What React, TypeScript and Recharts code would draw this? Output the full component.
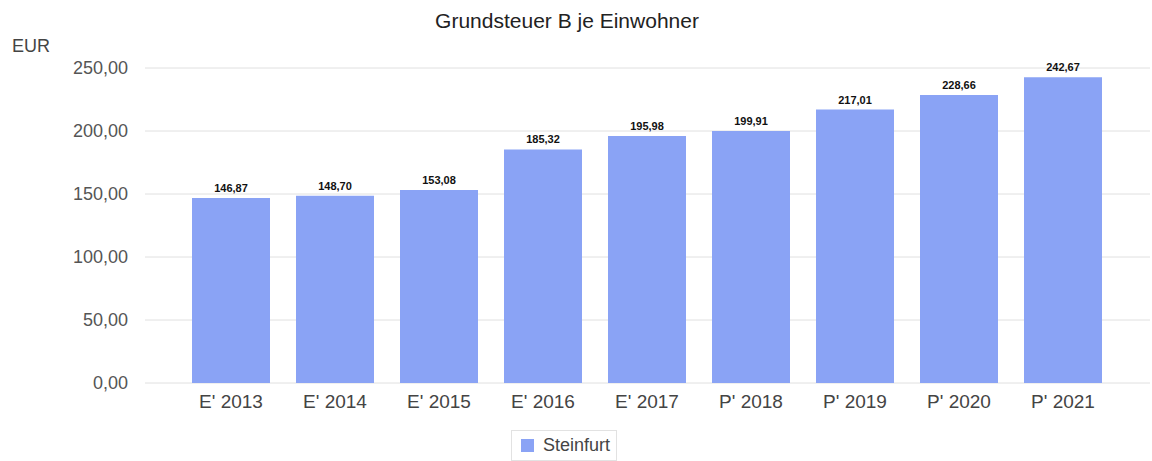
import { BarChart, Bar, XAxis, YAxis, CartesianGrid, Legend, LabelList } from 'recharts';

const categories = ["E' 2013", "E' 2014", "E' 2015", "E' 2016", "E' 2017", "P' 2018", "P' 2019", "P' 2020", "P' 2021"];
const steinfurt = [146.87, 148.7, 153.08, 185.32, 195.98, 199.91, 217.01, 228.66, 242.67];
const yTicks = [0, 50, 100, 150, 200, 250];

const chartData = categories.map((name, i) => ({ name, value: steinfurt[i] }));

const font = "'Liberation Sans', Arial, sans-serif";
const barColor = '#8aa3f5';

const fmt = (v: number) => v.toFixed(2).replace('.', ',');

function LegendBox() {
  return (
    <div style={{ display: 'flex', justifyContent: 'center', height: 31, marginLeft: -22 }}>
      <div
        style={{
          display: 'flex',
          alignItems: 'center',
          border: '1px solid #e2e2e2',
          padding: '0 6px 0 9px',
          height: 31,
          boxSizing: 'border-box',
          fontFamily: font,
          fontSize: 18,
          color: '#444',
        }}
      >
        <span style={{ width: 13, height: 13, background: barColor, display: 'inline-block', marginRight: 9 }} />
        Steinfurt
      </div>
    </div>
  );
}

export default function App() {
  return (
    <div style={{ position: 'absolute', left: 0, top: 0, width: 1152, height: 461, background: '#fff' }}>
      <div
        style={{
          position: 'absolute',
          top: 9,
          left: 0,
          width: 1134,
          textAlign: 'center',
          fontFamily: font,
          fontSize: 21,
          color: '#222',
        }}
      >
        Grundsteuer B je Einwohner
      </div>
      <div style={{ position: 'absolute', top: 36, left: 12, fontFamily: font, fontSize: 18, color: '#444' }}>EUR</div>
      <BarChart
        width={1152}
        height={461}
        data={chartData}
        margin={{ top: 68, right: 2, bottom: 0, left: 0 }}
        barCategoryGap="12.5%"
      >
        <CartesianGrid vertical={false} stroke="#e0e0e0" />
        <XAxis
          dataKey="name"
          height={47}
          axisLine={false}
          tickLine={false}
          tickSize={0}
          tickMargin={12}
          padding={{ left: 34, right: 35 }}
          tick={{ fontFamily: font, fontSize: 19, fill: '#444' }}
        />
        <YAxis
          width={145}
          domain={[0, 250]}
          ticks={yTicks}
          axisLine={false}
          tickLine={false}
          tickSize={0}
          tickMargin={17}
          tickFormatter={fmt}
          tick={{ fontFamily: font, fontSize: 18, fill: '#555' }}
        />
        <Legend verticalAlign="bottom" height={31} content={() => <LegendBox />} />
        <Bar dataKey="value" name="Steinfurt" fill={barColor} isAnimationActive={false}>
          <LabelList
            dataKey="value"
            position="top"
            offset={6}
            formatter={(v: any) => fmt(Number(v))}
            style={{ fontFamily: font, fontSize: 11, fontWeight: 'bold', fill: '#111' }}
          />
        </Bar>
      </BarChart>
    </div>
  );
}
